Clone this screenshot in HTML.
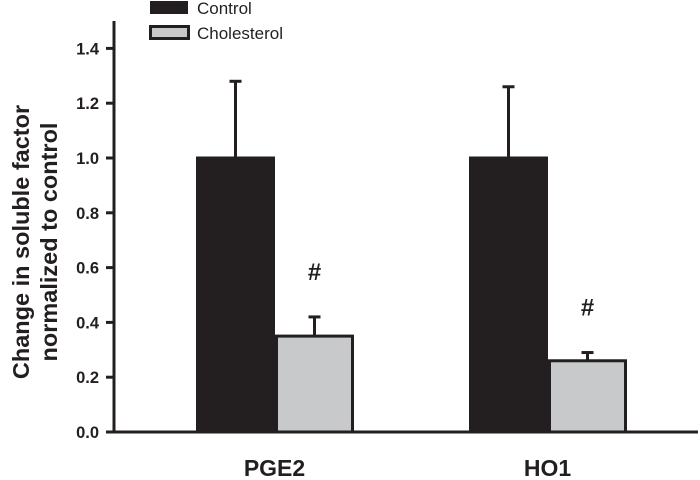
<!DOCTYPE html>
<html><head><meta charset="utf-8"><style>
body{margin:0;background:#fff}
svg{display:block;font-family:"Liberation Sans",Arial,sans-serif}
</style></head><body>
<svg id="chart" width="700" height="480">
<g id="legend">
<rect x="150" y="1" width="38" height="13" fill="#231f20"/>
<text x="197" y="14" font-size="17" fill="#231f20">Control</text>
<rect x="150.5" y="26.5" width="38" height="12" fill="#c8c9cb" stroke="#231f20" stroke-width="3"/>
<text x="197" y="39" font-size="17" fill="#231f20">Cholesterol</text>
</g>
<text transform="translate(29,242) rotate(-90)" text-anchor="middle" font-size="23.5" font-weight="bold" fill="#231f20"><tspan x="0" y="0">Change in soluble factor</tspan><tspan x="0" y="28">normalized to control</tspan></text>
<g id="plot"></g>
</svg>
<script>
const categories=["PGE2","HO1"];
const controlValues=[1.0,1.0];
const controlErrors=[0.28,0.26];
const cholValues=[0.35,0.26];
const cholErrors=[0.07,0.03];
const sigMarks=["#","#"];
const yTicks=[0,0.2,0.4,0.6,0.8,1.0,1.2,1.4];
const NS="http://www.w3.org/2000/svg";
const g=document.getElementById('plot');
const y0=432, pxPer=274;
function yS(v){return y0-v*pxPer;}
const catCenters=[274.5,547.5];
function mk(t,a){const e=document.createElementNS(NS,t);for(const k in a)e.setAttribute(k,a[k]);g.appendChild(e);return e;}
let ya=mk('line',{x1:114,y1:21,x2:114,y2:433.5,stroke:'#231f20','stroke-width':3});


yTicks.forEach(t=>{
 const l=mk('line',{x1:106,x2:114,y1:yS(t),y2:yS(t),stroke:'#231f20','stroke-width':3});
 
 
 const tx=mk('text',{x:99,y:yS(t)+6,'text-anchor':'end','font-size':16.5,'font-weight':'bold',fill:'#231f20'});
 tx.textContent=t.toFixed(1);
 
 
});
categories.forEach((c,i)=>{
 const cx=catCenters[i];
 const drawBar=(x,w,v,e,fill,name)=>{
  const top=yS(v+e);
  const el=mk('line',{x1:x+w/2,x2:x+w/2,y1:top,y2:yS(v),stroke:'#231f20','stroke-width':3});
  
  
  const cap=mk('line',{x1:x+w/2-6,x2:x+w/2+6,y1:top,y2:top,stroke:'#231f20','stroke-width':3});
  
  
  const r=mk('rect',{x:x,y:yS(v),width:w,height:y0-yS(v),fill:fill,stroke:'#231f20','stroke-width':3});
  
  
 };
 drawBar(cx-77,76,controlValues[i],controlErrors[i],'#231f20','bar-control-'+c.toLowerCase());
 drawBar(cx+2,76,cholValues[i],cholErrors[i],'#c8c9cb','bar-cholesterol-'+c.toLowerCase());
 const s=mk('text',{x:cx+40,y:yS(cholValues[i]+cholErrors[i])-37,'text-anchor':'middle','font-size':24,'font-weight':'bold',fill:'#231f20'});
 s.textContent=sigMarks[i];
 
 
 const lab=mk('text',{x:cx,y:476,'text-anchor':'middle','font-size':23,'font-weight':'bold',fill:'#231f20'});
 lab.textContent=c;
 
 
});
let xa=mk('line',{x1:106,y1:432,x2:698,y2:432,stroke:'#231f20','stroke-width':3});


</script>
</body></html>
